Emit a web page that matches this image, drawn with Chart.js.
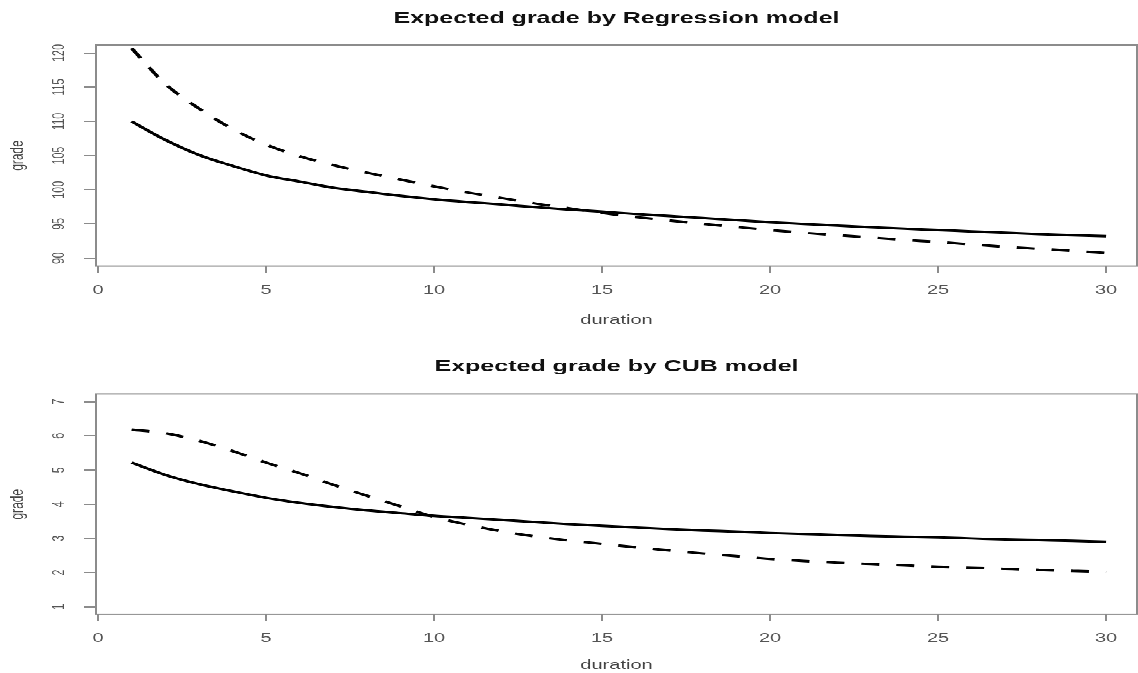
<!DOCTYPE html>
<html>
<head>
<meta charset="utf-8">
<script src="https://cdn.jsdelivr.net/npm/chart.js@4.4.1/dist/chart.umd.min.js"></script>
<style>
  html, body { margin: 0; padding: 0; background: #ffffff; overflow: hidden; }
  #wrap { position: absolute; left: 0; top: 0; width: 1138px; height: 1077px;
          transform: scale(1, 0.625); transform-origin: 0 0; }
  #c1 { position: absolute; left: 0; top: 0; }
  #c2 { position: absolute; left: 0; top: 540px; }
</style>
</head>
<body>
<div id="wrap">
  <canvas id="c1" width="1138" height="540"></canvas>
  <canvas id="c2" width="1138" height="537"></canvas>
</div>
<script>
// ---------- data ----------
const duration = [1,2,3,4,5,6,7,8,9,10,11,12,13,14,15,16,17,18,19,20,21,22,23,24,25,26,27,28,29,30];

// Top panel: Expected grade by Regression model
const regSolid  = [110.0,107.3,105.1,103.5,102.1,101.2,100.3,99.7,99.1,98.6,98.2,97.85,97.45,97.1,96.8,96.45,96.15,95.85,95.55,95.25,95.0,94.75,94.5,94.3,94.1,93.9,93.7,93.5,93.35,93.2];
const regDashed = [120.7,115.5,111.9,108.9,106.6,104.9,103.6,102.5,101.5,100.5,99.6,98.8,98.0,97.3,96.6,96.0,95.5,95.0,94.55,94.1,93.7,93.35,93.0,92.65,92.35,92.0,91.65,91.35,91.05,90.75];

// Bottom panel: Expected grade by CUB model
const cubSolid  = [5.22,4.86,4.59,4.38,4.19,4.04,3.92,3.82,3.74,3.66,3.60,3.54,3.48,3.42,3.37,3.32,3.27,3.23,3.20,3.16,3.13,3.10,3.07,3.05,3.03,3.00,2.97,2.95,2.93,2.90];
const cubDashed = [6.18,6.08,5.86,5.56,5.22,4.91,4.57,4.25,3.94,3.63,3.40,3.21,3.06,2.94,2.84,2.74,2.65,2.56,2.48,2.40,2.34,2.29,2.25,2.21,2.17,2.14,2.11,2.08,2.05,2.02];

const xTickValues      = [0,5,10,15,20,25,30];
const yTickValuesTop   = [90,95,100,105,110,115,120];
const yTickValuesBot   = [1,2,3,4,5,6,7];

const titleTop = 'Expected grade by Regression model';
const titleBot = 'Expected grade by CUB model';
const xLabel = 'duration';
const yLabel = 'grade';

// ---------- drawing ----------
const FONT = "'Liberation Sans', Arial, Helvetica, sans-serif";
const AXIS_GRAY = '#8c8c8c';

const boxPlugin = {
  id: 'rbox',
  afterDraw(chart) {
    const { ctx, chartArea: a } = chart;
    ctx.save();
    ctx.strokeStyle = AXIS_GRAY;
    ctx.lineWidth = 2;
    ctx.strokeRect(a.left, a.top, a.right - a.left, a.bottom - a.top);
    ctx.restore();
  }
};

function pts(ys) { return ys.map((v, i) => ({ x: duration[i], y: v })); }

function makeChart(id, cfg) {
  return new Chart(document.getElementById(id), {
    type: 'line',
    data: {
      datasets: [
        { label: 'solid', data: pts(cfg.solid), borderColor: '#000', borderWidth: 4,
          pointRadius: 0, cubicInterpolationMode: 'monotone', fill: false },
        { label: 'dashed', data: pts(cfg.dashed), borderColor: '#000', borderWidth: 4,
          borderDash: [18, 17], pointRadius: 0, cubicInterpolationMode: 'monotone', fill: false }
      ]
    },
    options: {
      responsive: false,
      animation: false,
      devicePixelRatio: 1,
      events: [],
      layout: { padding: { left: 0, right: 1, top: 0, bottom: 0 } },
      plugins: {
        legend: { display: false },
        tooltip: { enabled: false },
        title: {
          display: true, text: cfg.title, fullSize: false, color: '#111',
          font: { family: FONT, size: 25, weight: 'bold' },
          padding: cfg.titlePad
        }
      },
      scales: {
        x: {
          type: 'linear', min: -0.06, max: 30.92,
          afterBuildTicks: s => { s.ticks = xTickValues.map(v => ({ value: v })); },
          afterFit: s => { s.height = cfg.xHeight; },
          grid: { drawOnChartArea: false, drawTicks: true, tickLength: 11, color: AXIS_GRAY, lineWidth: 2 },
          border: { display: false },
          ticks: { font: { family: FONT, size: 20 }, color: '#555', padding: 16,
                   maxRotation: 0, minRotation: 0, autoSkip: false },
          title: { display: true, text: xLabel, color: '#444', font: { family: FONT, size: 20 },
                   padding: { top: 0, bottom: cfg.xTitlePadBottom } }
        },
        y: {
          type: 'linear', min: cfg.yMin, max: cfg.yMax,
          afterBuildTicks: s => { s.ticks = cfg.yTicks.map(v => ({ value: v })); },
          afterFit: s => { s.width = 96; },
          grid: { drawOnChartArea: false, drawTicks: true, tickLength: 12, color: AXIS_GRAY, lineWidth: 2 },
          border: { display: false },
          ticks: { font: { family: FONT, size: 17 }, color: '#555', padding: cfg.yTickPad,
                   minRotation: 90, maxRotation: 90, crossAlign: 'center', autoSkip: false },
          title: { display: true, text: yLabel, color: '#444', font: { family: FONT, size: 19 },
                   padding: { top: 6, bottom: 0 } }
        }
      }
    },
    plugins: [boxPlugin]
  });
}

makeChart('c1', {
  title: titleTop, solid: regSolid, dashed: regDashed,
  yMin: 88.83, yMax: 121.17, yTicks: yTickValuesTop, yTickPad: 11,
  titlePad: { top: 15.4, bottom: 26.6 },
  xHeight: 114.4, xTitlePadBottom: 16
});

makeChart('c2', {
  title: titleBot, solid: cubSolid, dashed: cubDashed,
  yMin: 0.777, yMax: 7.225, yTicks: yTickValuesBot, yTickPad: 20,
  titlePad: { top: 32.2, bottom: 28.2 },
  xHeight: 94.1, xTitlePadBottom: 1
});
</script>
</body>
</html>
